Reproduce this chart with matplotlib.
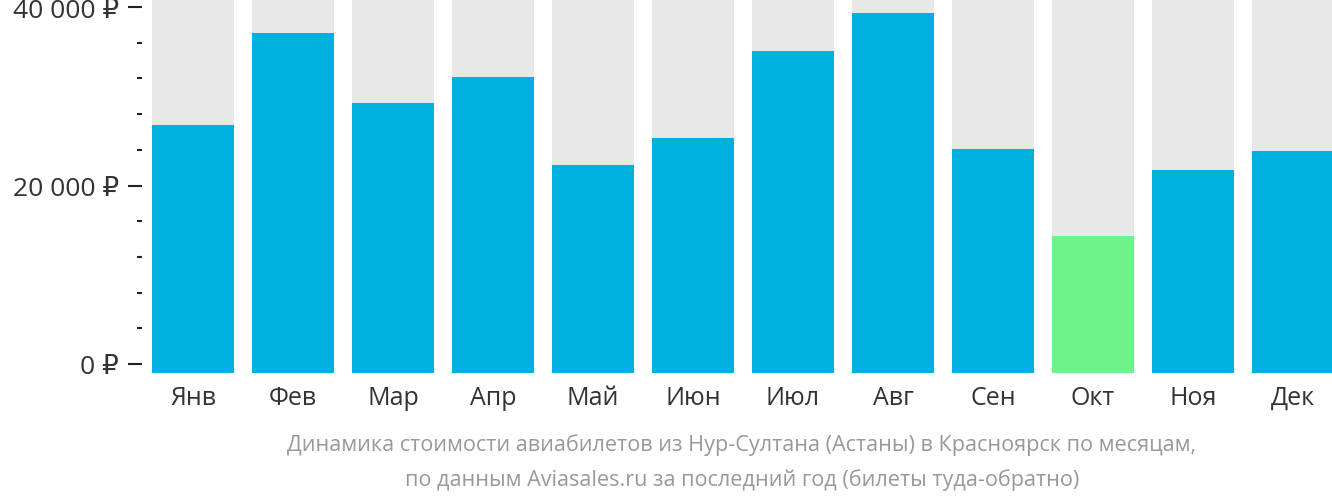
import matplotlib
matplotlib.use('Agg')
import matplotlib.pyplot as plt
from matplotlib.ticker import FixedLocator, FuncFormatter

plt.rcParams['font.family'] = ['Open Sans', 'DejaVu Sans']

months = ['Янв', 'Фев', 'Мар', 'Апр', 'Май', 'Июн', 'Июл', 'Авг', 'Сен', 'Окт', 'Ноя', 'Дек']
prices = [26780, 37090, 29240, 32160, 22300, 25320, 35070, 39330, 24090, 14340, 21740, 23870]
cheapest = 'Окт'

BLUE = '#00b1dd'
GREEN = '#6ef28a'
GREY = '#e8e8e8'

# пикселы -> данные: 0 на y=365, 40000 на y=8
px_per_unit = 357 / 40000
y_top = 40000 + 8 / px_per_unit
y_bot = -9 / px_per_unit

fig = plt.figure(figsize=(13.32, 5.02), dpi=100)
ax = fig.add_axes([152 / 1332, 128 / 502, 1 - 152 / 1332, 374 / 502])

x = list(range(len(months)))
w = 0.82
ax.bar(x, [y_top - y_bot] * len(x), bottom=y_bot, width=w, color=GREY, linewidth=0)
colors = [GREEN if m == cheapest else BLUE for m in months]
ax.bar(x, [p - y_bot for p in prices], bottom=y_bot, width=w, color=colors, linewidth=0)

ax.set_xlim(-w / 2, (1332 - 193) / 100)
ax.set_ylim(y_bot, y_top)

for s in ax.spines.values():
    s.set_visible(False)
ax.spines['left'].set_position(('outward', 7.2))

ax.yaxis.set_major_locator(FixedLocator([0, 20000, 40000]))
ax.yaxis.set_minor_locator(FixedLocator([v for v in range(4000, 40000, 4000) if v != 20000]))
ax.yaxis.set_major_formatter(FuncFormatter(lambda v, p: f"{int(v):,} ₽".replace(',', ' ')))
ax.tick_params(axis='y', which='major', length=10, width=1.5, color='#222222',
               labelsize=19, labelcolor='#333333', pad=6.5)
ax.tick_params(axis='y', which='minor', length=3.6, width=1.5, color='#222222')

ax.set_xticks(x)
ax.set_xticklabels(months)
ax.tick_params(axis='x', length=0, labelsize=18, labelcolor='#333333', pad=8.5)

fig.text((152 + 1332) / 2 / 1332, 1 - 445 / 502,
         'Динамика стоимости авиабилетов из Нур-Султана (Астаны) в Красноярск по месяцам,',
         ha='center', va='center', fontsize=15.6, color='#999999')
fig.text((152 + 1332) / 2 / 1332, 1 - 480 / 502,
         'по данным Aviasales.ru за последний год (билеты туда-обратно)',
         ha='center', va='center', fontsize=15.6, color='#999999')

fig.savefig('out.png', dpi=100)
